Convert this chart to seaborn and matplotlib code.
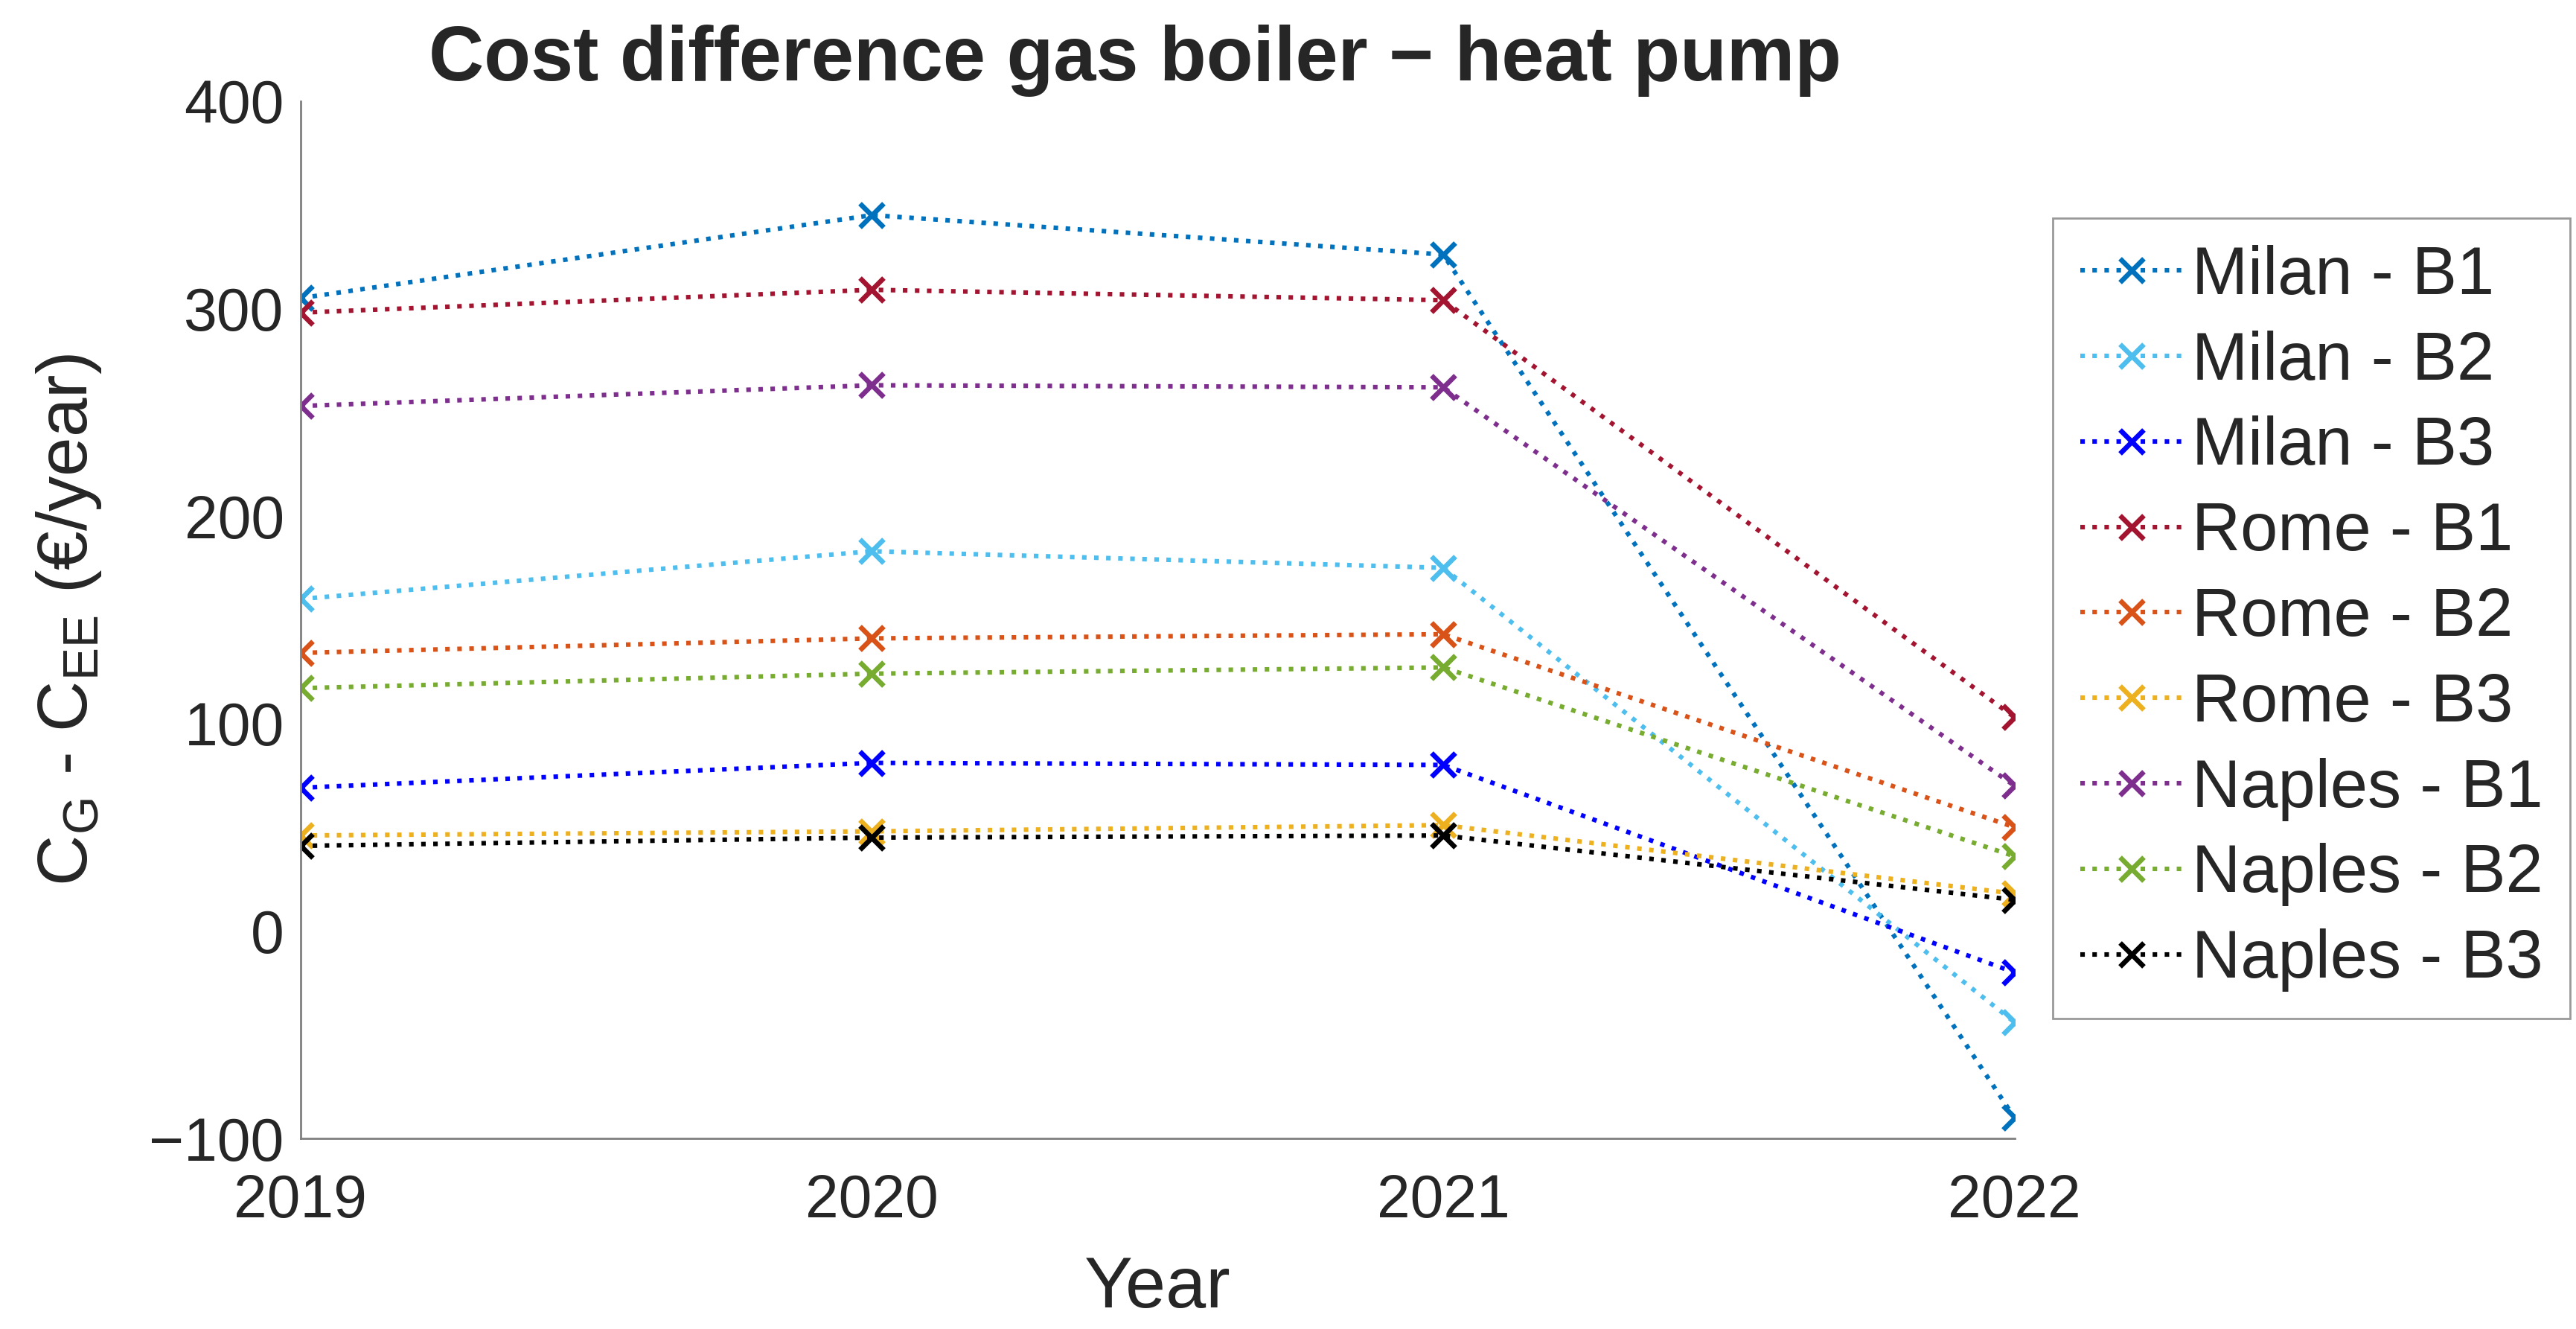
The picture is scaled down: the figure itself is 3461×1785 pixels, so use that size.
import matplotlib
matplotlib.use("Agg")
import matplotlib.pyplot as plt
import seaborn as sns
import pandas as pd

years = [2019, 2020, 2021, 2022]

milan_b1 = [305, 345, 326, -90]
milan_b2 = [160, 183, 175, -44]
milan_b3 = [69, 81, 80, -20]
rome_b1 = [298, 309, 304, 103]
rome_b2 = [134, 141, 143, 50]
rome_b3 = [46, 48, 51, 18]
naples_b1 = [253, 263, 262, 70]
naples_b2 = [117, 124, 127, 36]
naples_b3 = [41, 45, 46, 15]

series_names = ["Milan - B1", "Milan - B2", "Milan - B3",
                "Rome - B1", "Rome - B2", "Rome - B3",
                "Naples - B1", "Naples - B2", "Naples - B3"]
series_vals = [milan_b1, milan_b2, milan_b3,
               rome_b1, rome_b2, rome_b3,
               naples_b1, naples_b2, naples_b3]
colors = ["#0072BD", "#4DBEEE", "#0000FF",
          "#A2142F", "#D95319", "#EDB120",
          "#7E2F8E", "#77AC30", "#000000"]

rows = []
for name, vals in zip(series_names, series_vals):
    for yr, v in zip(years, vals):
        rows.append({"Year": yr, "diff": v, "series": name})
df = pd.DataFrame(rows)

sns.set_style("white")
plt.rcParams['font.family'] = ['Liberation Sans', 'DejaVu Sans']
plt.rcParams['mathtext.default'] = 'regular'

fig = plt.figure(figsize=(17.305, 8.925), dpi=200)
ax = fig.add_axes([0.1167, 0.1434, 0.782 - 0.1167, 0.924 - 0.1434])

sns.lineplot(data=df, x="Year", y="diff", hue="series", hue_order=series_names,
             palette=dict(zip(series_names, colors)), marker="x", markersize=11.5,
             markeredgecolor=None, markeredgewidth=2.4, linestyle=":", linewidth=2.2,
             legend=False, ax=ax)

ax.set_xlim(2019, 2022)
ax.set_ylim(-100, 400)
ax.set_xticks(years)
ax.set_xticklabels([str(y) for y in years])
ax.set_yticks([-100, 0, 100, 200, 300, 400])

for s in ["top", "right"]:
    ax.spines[s].set_visible(False)
for s in ["left", "bottom"]:
    ax.spines[s].set_color("#808080")
    ax.spines[s].set_linewidth(1.0)

ax.tick_params(axis="both", direction="in", length=7, width=1.0, color="#808080",
               labelsize=29, labelcolor="#262626")
ax.tick_params(axis="x", pad=17)
ax.tick_params(axis="y", pad=8)

ax.set_title("Cost difference gas boiler \u2212 heat pump", fontsize=37,
             fontweight="bold", pad=10, x=0.487)
ax.set_xlabel("Year", fontsize=35, color="#262626")
ax.set_ylabel("C$_{G}$ - C$_{EE}$ (\u20ac/year)", fontsize=34, color="#262626")
ax.xaxis.set_label_coords(0.5, -0.113)
ax.yaxis.set_label_coords(-0.115, 0.5)

# legend outside, right of the axes
leg = ax.legend(ax.lines[:len(series_names)], series_names, loc="upper left",
                bbox_to_anchor=(0.797, 0.836), bbox_transform=fig.transFigure,
                borderaxespad=0, fontsize=32.5, frameon=True, fancybox=False,
                handlelength=1.55, handletextpad=0.12, labelspacing=0.33,
                borderpad=0.4, numpoints=1)
leg.get_frame().set_edgecolor("#808080")
leg.get_frame().set_linewidth(1.0)

fig.savefig("out.png", dpi=200)
